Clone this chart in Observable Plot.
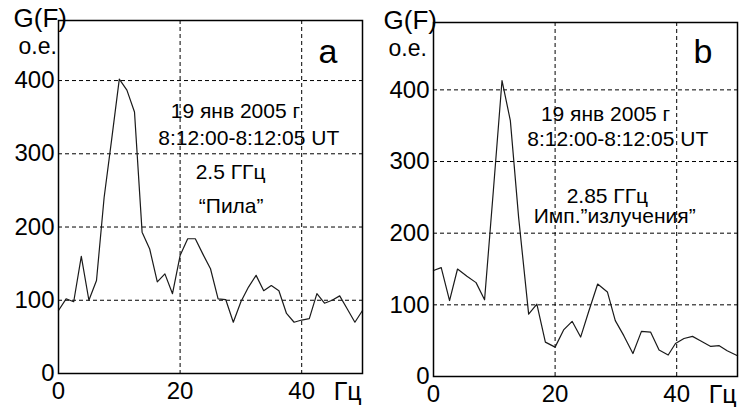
<!DOCTYPE html>
<html>
<head>
<meta charset="utf-8">
<script src="https://cdn.jsdelivr.net/npm/d3@7"></script>
<script src="https://cdn.jsdelivr.net/npm/@observablehq/plot@0.6"></script>
<style>
  html, body { margin: 0; padding: 0; background: #fff; }
  #wrap { position: relative; width: 739px; height: 407px; overflow: hidden; background: #fff; }
  #wrap > svg { position: absolute; top: 0; }
</style>
</head>
<body>
<div id="wrap"></div>
<script>
// ---- data ----
const freqA = [0, 1.25, 2.5, 3.75, 5, 6.25, 7.5, 8.75, 10, 11.25, 12.5, 13.75, 15, 16.25, 17.5, 18.75, 20,
  21.25, 22.5, 23.75, 25, 26.25, 27.5, 28.75, 30, 31.25, 32.5, 33.75, 35, 36.25, 37.5, 38.75, 40,
  41.25, 42.5, 43.75, 45, 46.25, 47.5, 48.75, 50];
const gA = [86, 102, 98, 160, 100, 127, 240, 320, 402, 387, 357, 193, 170, 125, 136, 109, 161,
  184, 184, 163, 143, 102, 101, 70, 98, 118, 134, 113, 120, 113, 82, 70, 73,
  75, 109, 96, 100, 106, 88, 70, 86];

const freqB = [0, 1.27, 2.64, 3.95, 5.5, 7.0, 8.4, 9.85, 11.27, 12.64, 14.0, 15.65, 17.0, 18.4, 20.0,
  21.4, 22.8, 24.2, 25.5, 27.0, 28.6, 29.9, 31.3, 32.8, 34.2, 35.7, 37.1, 38.6, 39.8,
  41.2, 42.6, 43.9, 45.6, 47.0, 48.3, 50.0];
const gB = [148, 152, 106, 150, 140, 131, 107, 260, 413, 357, 222, 87, 101, 48, 41,
  65, 77, 55, 90, 129, 118, 78, 57, 32, 63, 62, 37, 30, 46,
  53, 56, 50, 42, 43, 36, 29];

const xTicks = [0, 20, 40];
const yTicks = [0, 100, 200, 300, 400];
const xGrid = [20, 40];
const yGrid = [100, 200, 300, 400];
const yLabel1 = "G(F)";
const yLabel2 = "o.e.";
const xUnit = "Гц";
const panelTags = ["a", "b"];
const notesA = ["19 янв 2005 г", "8:12:00-8:12:05 UT", "2.5 ГГц", "“Пила”"];
const notesB = ["19 янв 2005 г", "8:12:00-8:12:05 UT", "2.85 ГГц", "Имп.”излучения”"];

const FONT = "Arial, 'Liberation Sans', Helvetica, sans-serif";

function note(t, x, y) {
  return Plot.text([t], {x: () => x, y: () => y, text: d => d, fontSize: 21, fill: "black", textAnchor: "middle"});
}

function panel({freq, g, width, ml, mr, mt, mb, ymax, tag, notes, gfDx, oeDx, tagDx, tagDy}) {
  const pts = freq.map((f, i) => ({f, v: g[i]}));
  return Plot.plot({
    width, height: 407,
    marginLeft: ml, marginRight: mr, marginTop: mt, marginBottom: mb,
    style: {fontFamily: FONT, fontSize: "20px", background: "white", color: "black", overflow: "visible"},
    x: {domain: [0, 50]},
    y: {domain: [0, ymax]},
    marks: [
      Plot.gridX(xGrid, {stroke: "black", strokeOpacity: 1, strokeWidth: 1, strokeDasharray: "4,3"}),
      Plot.gridY(yGrid, {stroke: "black", strokeOpacity: 1, strokeWidth: 1, strokeDasharray: "4,3"}),
      Plot.line(pts, {x: "f", y: "v", stroke: "#1a1a1a", strokeWidth: 1.2}),
      Plot.frame({stroke: "black", strokeWidth: 1.5}),
      Plot.axisY(yTicks, {tickSize: 0, tickPadding: 4, fontSize: 24, label: null}),
      Plot.axisX(xTicks, {tickSize: 0, tickPadding: 8, fontSize: 24, label: null}),
      Plot.text([xUnit], {frameAnchor: "bottom-right", textAnchor: "end", lineAnchor: "top", dy: 9, dx: -1, fontSize: 25}),
      Plot.text([yLabel1], {frameAnchor: "top-left", textAnchor: "start", lineAnchor: "middle", dx: gfDx, dy: -2, fontSize: 26}),
      Plot.text([yLabel2], {frameAnchor: "top-left", textAnchor: "start", lineAnchor: "middle", dx: oeDx, dy: 26, fontSize: 23}),
      Plot.text([tag], {frameAnchor: "top-right", textAnchor: "end", lineAnchor: "middle", dx: tagDx, dy: tagDy, fontSize: 34}),
      ...notes
    ]
  });
}

const svgA = panel({
  freq: freqA, g: gA, width: 370, ml: 58, mr: 8, mt: 20, mb: 34, ymax: 482, tag: panelTags[0],
  gfDx: -45, oeDx: -40, tagDx: -25, tagDy: 32,
  notes: [note(notesA[0], 29.1, 358), note(notesA[1], 31.3, 321), note(notesA[2], 28.3, 275), note(notesA[3], 28.4, 229)]
});
const svgB = panel({
  freq: freqB, g: gB, width: 369, ml: 63, mr: 2, mt: 22, mb: 31, ymax: 494, tag: panelTags[1],
  gfDx: -50, oeDx: -45, tagDx: -25, tagDy: 30,
  notes: [note(notesB[0], 28.3, 366), note(notesB[1], 30.3, 331), note(notesB[2], 28.6, 252), note(notesB[3], 29.8, 223)]
});
svgA.style.left = "0px";
svgB.style.left = "370px";
const wrap = document.getElementById("wrap");
wrap.appendChild(svgA);
wrap.appendChild(svgB);
</script>
</body>
</html>
